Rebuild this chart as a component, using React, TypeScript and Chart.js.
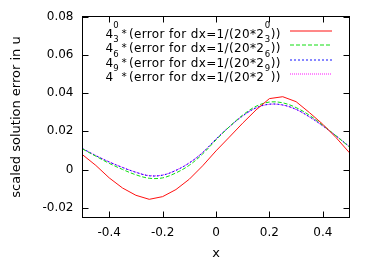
import React, { useEffect, useRef } from "react";
import { Chart, registerables } from "chart.js";

Chart.register(...registerables);

const xValues = [-0.5, -0.45, -0.4, -0.35, -0.3, -0.25, -0.2, -0.15, -0.1, -0.05, 0, 0.05, 0.1, 0.15, 0.2, 0.25, 0.3, 0.35, 0.4, 0.45, 0.5];
const err0 = [0.0078, 0.0022, -0.0043, -0.0096, -0.0134, -0.0155, -0.0141, -0.0104, -0.005, 0.002, 0.0098, 0.017, 0.0243, 0.0312, 0.0371, 0.0381, 0.0355, 0.0298, 0.0237, 0.0167, 0.0088];
const err3 = [0.0108, 0.007, 0.0033, 0.0001, -0.0027, -0.0045, -0.0043, -0.0017, 0.0023, 0.0082, 0.0155, 0.0224, 0.0285, 0.0331, 0.0353, 0.0349, 0.0324, 0.0284, 0.0232, 0.0176, 0.0118];
const err6 = [0.011, 0.0073, 0.004, 0.0011, -0.0014, -0.0032, -0.0029, -0.0004, 0.0035, 0.0089, 0.016, 0.0224, 0.0281, 0.0323, 0.0342, 0.0338, 0.0315, 0.0276, 0.0229, 0.0176, 0.012];
const err9 = [0.011, 0.0074, 0.0041, 0.0012, -0.0013, -0.0031, -0.0028, -0.0003, 0.0036, 0.009, 0.016, 0.0224, 0.028, 0.0322, 0.0341, 0.0337, 0.0314, 0.0275, 0.0228, 0.0176, 0.012];
const seriesValues = [err0, err3, err6, err9];
const exponents = ["0", "3", "6", "9"];
const seriesColors = ["#ff1010", "#10dd10", "#1010ff", "#ff10ff"];
const seriesDashes: number[][] = [[], [4, 2], [2, 2], [1, 1]];
const xTicks = [-0.4, -0.2, 0, 0.2, 0.4];
const yTicks = [-0.02, 0, 0.02, 0.04, 0.06, 0.08];
const xTitle = "x";
const yTitle = "scaled solution error in u";

const FONT = "'DejaVu Sans', sans-serif";

const fmt = (v: any) => String(Math.round(Number(v) * 100) / 100);

const framePlugin = {
  id: "gnuframe",
  afterDatasetsDraw(chart: any) {
    const { ctx, chartArea, scales } = chart;
    const { left, right, top, bottom } = chartArea;
    ctx.save();
    ctx.setLineDash([]);
    ctx.strokeStyle = "#000";
    ctx.lineWidth = 1;
    ctx.strokeRect(left, top, right - left, bottom - top);
    const tl = 6;
    ctx.beginPath();
    xTicks.forEach((v) => {
      const px = Math.round(scales.x.getPixelForValue(v)) + 0.5;
      ctx.moveTo(px, bottom);
      ctx.lineTo(px, bottom - tl);
      ctx.moveTo(px, top);
      ctx.lineTo(px, top + tl);
    });
    yTicks.forEach((v) => {
      const py = Math.round(scales.y.getPixelForValue(v)) + 0.5;
      ctx.moveTo(left, py);
      ctx.lineTo(left + tl, py);
      ctx.moveTo(right, py);
      ctx.lineTo(right - tl, py);
    });
    ctx.stroke();

    // key
    const mainFont = `12px ${FONT}`;
    const starFont = `10.5px ${FONT}`;
    const supFont = `8.5px ${FONT}`;
    chart.data.datasets.forEach((ds: any, i: number) => {
      const lineY = 31 + Math.round(i * 14.4);
      const base = lineY + 7;
      const supBase = base - 9.8;
      const x0 = 105.5;
      ctx.fillStyle = "#000";
      ctx.textAlign = "left";
      ctx.textBaseline = "alphabetic";
      (ctx as any).letterSpacing = "0px";
      ctx.font = mainFont;
      ctx.fillText("4", x0, base);
      ctx.font = supFont;
      ctx.fillText(exponents[i], x0 + 7.8, supBase);
      ctx.font = starFont;
      ctx.fillText("*", x0 + 16, base - 1);
      ctx.font = mainFont;
      (ctx as any).letterSpacing = "0.35px";
      const mid = "(error for dx=1/(20*2";
      ctx.fillText(mid, x0 + 23.5, base);
      let x = x0 + 23.5 + ctx.measureText(mid).width + 0.5;
      (ctx as any).letterSpacing = "0px";
      ctx.font = supFont;
      ctx.fillText(exponents[i], x, supBase);
      x += ctx.measureText(exponents[i]).width + 0.6;
      ctx.font = mainFont;
      (ctx as any).letterSpacing = "0.35px";
      ctx.fillText("))", x, base);
      (ctx as any).letterSpacing = "0px";

      ctx.beginPath();
      ctx.strokeStyle = ds.borderColor;
      ctx.lineWidth = 1;
      ctx.setLineDash(ds.borderDash || []);
      ctx.moveTo(290, lineY);
      ctx.lineTo(332, lineY);
      ctx.stroke();
      ctx.setLineDash([]);
    });
    ctx.restore();
  },
};

export default function App() {
  const ref = useRef<HTMLCanvasElement>(null);
  useEffect(() => {
    const canvas = ref.current!;
    const chart = new Chart(canvas, {
      type: "line",
      data: {
        datasets: seriesValues.map((vals, i) => ({
          label: `4^${exponents[i]} * (error for dx=1/(20*2^${exponents[i]}))`,
          data: xValues.map((x, j) => ({ x, y: vals[j] })),
          borderColor: seriesColors[i],
          backgroundColor: seriesColors[i],
          borderWidth: 1,
          borderDash: seriesDashes[i],
          pointRadius: 0,
          tension: i === 0 ? 0 : 0.35,
          fill: false,
        })),
      },
      options: {
        animation: false,
        responsive: false,
        maintainAspectRatio: false,
        devicePixelRatio: 1,
        layout: { padding: { top: 16.5, right: 24.5, bottom: 0, left: 0 } },
        plugins: { legend: { display: false }, tooltip: { enabled: false } },
        scales: {
          x: {
            type: "linear",
            min: -0.5,
            max: 0.5,
            afterBuildTicks: (s: any) => {
              s.ticks = xTicks.map((value) => ({ value }));
            },
            afterFit: (s: any) => {
              s.height = 44.5;
            },
            grid: { display: false, drawTicks: false },
            border: { display: false },
            ticks: {
              color: "#000",
              font: { family: FONT, size: 12 },
              padding: 8,
              maxRotation: 0,
              autoSkip: false,
              callback: (v: any) => fmt(v),
            },
            title: {
              display: true,
              text: xTitle,
              color: "#000",
              font: { family: FONT, size: 13 },
              padding: { top: 0, bottom: 0.5 },
            },
          },
          y: {
            type: "linear",
            min: -0.025,
            max: 0.08,
            afterBuildTicks: (s: any) => {
              s.ticks = yTicks.map((value) => ({ value }));
            },
            afterFit: (s: any) => {
              s.width = 82.5;
            },
            grid: { display: false, drawTicks: false },
            border: { display: false },
            ticks: {
              color: "#000",
              font: { family: FONT, size: 12 },
              padding: 9,
              autoSkip: false,
              callback: (v: any) => fmt(v),
            },
            title: {
              display: true,
              text: yTitle,
              color: "#000",
              font: { family: FONT, size: 13 },
              padding: { top: 9, bottom: 0 },
            },
          },
        },
      },
      plugins: [framePlugin],
    });
    return () => chart.destroy();
  }, []);
  return (
    <div style={{ position: "fixed", left: 0, top: 0, width: 374, height: 262, background: "#fff" }}>
      <canvas ref={ref} width={374} height={262} style={{ display: "block", width: 374, height: 262 }} />
    </div>
  );
}
